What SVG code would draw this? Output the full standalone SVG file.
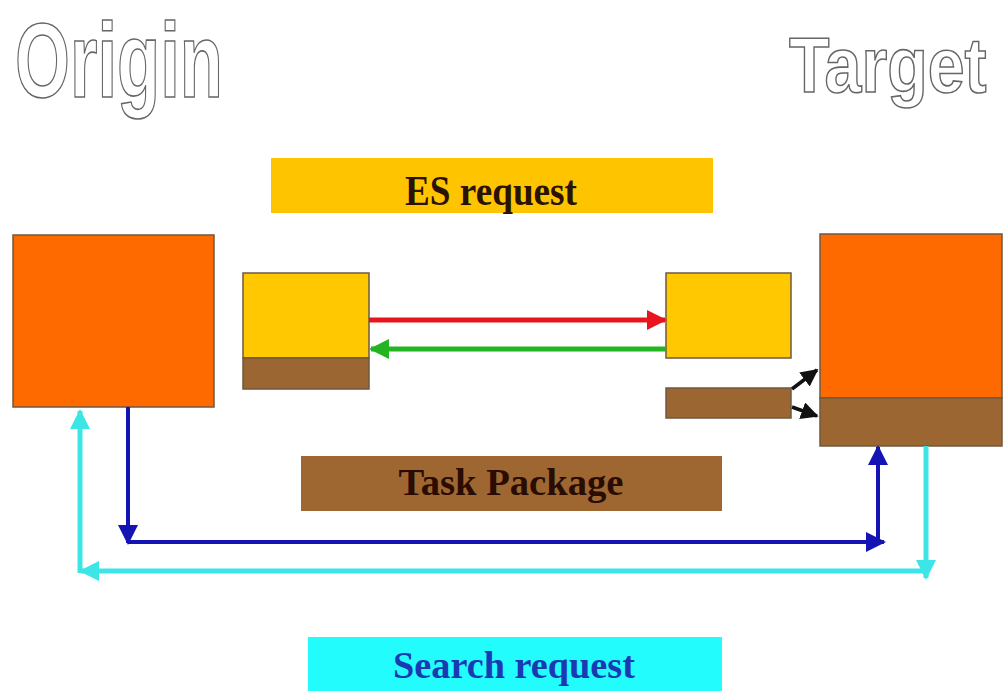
<svg xmlns="http://www.w3.org/2000/svg" width="1007" height="691" viewBox="0 0 1007 691">
  <style>
    .title { font-family: "Liberation Sans", Arial, sans-serif; font-weight: bold; fill: #ffffff; stroke: #666666; stroke-width: 1.6; }
    .box { stroke: #6e5a40; stroke-width: 1.5; }
    .orange { fill: #ff6a00; }
    .yellow { fill: #ffc800; }
    .brown { fill: #9c6632; }
    .label { font-family: "Liberation Serif", "Times New Roman", serif; font-weight: bold; text-anchor: middle; }
    .conn { fill: none; }
  </style>
  <defs>
    <marker id="ahRed" viewBox="0 0 10 10" refX="9" refY="5" markerWidth="4" markerHeight="4" orient="auto" markerUnits="strokeWidth">
      <path d="M0,0 L10,5 L0,10 z" fill="#e8141e"/>
    </marker>
    <marker id="ahGreen" viewBox="0 0 10 10" refX="9" refY="5" markerWidth="4" markerHeight="4" orient="auto" markerUnits="strokeWidth">
      <path d="M0,0 L10,5 L0,10 z" fill="#22b422"/>
    </marker>
    <marker id="ahBlue" viewBox="0 0 10 10" refX="9" refY="5" markerWidth="5" markerHeight="5" orient="auto" markerUnits="strokeWidth">
      <path d="M0,0 L10,5 L0,10 z" fill="#1414b4"/>
    </marker>
    <marker id="ahCyan" viewBox="0 0 10 10" refX="9" refY="5" markerWidth="4" markerHeight="4" orient="auto" markerUnits="strokeWidth">
      <path d="M0,0 L10,5 L0,10 z" fill="#3ce6e6"/>
    </marker>
    <marker id="ahBlack" viewBox="0 0 10 10" refX="9" refY="5" markerWidth="5" markerHeight="5" orient="auto" markerUnits="strokeWidth">
      <path d="M0,0 L10,5 L0,10 z" fill="#111111"/>
    </marker>
  </defs>

  <rect width="1007" height="691" fill="#ffffff"/>

  <!-- Titles -->
  <g id="title-origin">
    <text class="title" x="15" y="97" font-size="106" textLength="208" lengthAdjust="spacingAndGlyphs">Origin</text>
  </g>
  <g id="title-target">
    <text class="title" transform="translate(789 92) scale(0.85 1)" x="0" y="0" font-size="78">Target</text>
  </g>

  <!-- Banners -->
  <g id="banner-es">
    <rect x="271" y="158" width="442" height="55" fill="#ffc400"/>
    <text class="label" x="491" y="205" font-size="42" fill="#2a1205" textLength="172" lengthAdjust="spacingAndGlyphs">ES request</text>
  </g>
  <g id="banner-task">
    <rect x="301" y="456" width="421" height="55" fill="#9e6630"/>
    <text class="label" x="511" y="495" font-size="38" fill="#2a0c02" textLength="225" lengthAdjust="spacingAndGlyphs">Task Package</text>
  </g>
  <g id="banner-search">
    <rect x="308" y="637" width="414" height="54" fill="#22fcfc"/>
    <text class="label" x="514" y="678" font-size="38" fill="#1a3ab4" textLength="242" lengthAdjust="spacingAndGlyphs">Search request</text>
  </g>

  <!-- Origin node -->
  <g id="origin-node">
    <rect class="box orange" x="13" y="235" width="201" height="172"/>
  </g>
  <!-- Origin ES module -->
  <g id="origin-es">
    <rect class="box yellow" x="243" y="273" width="126" height="85"/>
    <rect class="box brown" x="243" y="358" width="126" height="31"/>
  </g>
  <!-- Target ES module -->
  <g id="target-es">
    <rect class="box yellow" x="666" y="273" width="125" height="85"/>
  </g>
  <g id="target-task">
    <rect class="box brown" x="666" y="388" width="125" height="30"/>
  </g>
  <!-- Target node -->
  <g id="target-node">
    <rect class="box orange" x="820" y="234" width="182" height="164"/>
    <rect class="box brown" x="820" y="398" width="182" height="48"/>
  </g>

  <!-- Connectors -->
  <g id="connectors" class="conn">
    <line x1="369" y1="320" x2="665" y2="320" stroke="#e8141e" stroke-width="5" marker-end="url(#ahRed)"/>
    <line x1="666" y1="349" x2="371" y2="349" stroke="#22b422" stroke-width="5" marker-end="url(#ahGreen)"/>
    <line x1="792" y1="389" x2="817" y2="370" stroke="#111111" stroke-width="3.5" marker-end="url(#ahBlack)"/>
    <line x1="792" y1="407" x2="817" y2="416" stroke="#111111" stroke-width="3.5" marker-end="url(#ahBlack)"/>

    <line x1="128" y1="407" x2="128" y2="543" stroke="#1414b4" stroke-width="4" marker-end="url(#ahBlue)"/>
    <line x1="128" y1="542" x2="884" y2="542" stroke="#1414b4" stroke-width="4" marker-end="url(#ahBlue)"/>
    <line x1="878" y1="544" x2="878" y2="447" stroke="#1414b4" stroke-width="4" marker-end="url(#ahBlue)"/>

    <line x1="926" y1="446" x2="926" y2="578" stroke="#3ce6e6" stroke-width="5" marker-end="url(#ahCyan)"/>
    <line x1="926" y1="571" x2="81" y2="571" stroke="#3ce6e6" stroke-width="5" marker-end="url(#ahCyan)"/>
    <line x1="80" y1="573" x2="80" y2="411" stroke="#3ce6e6" stroke-width="5" marker-end="url(#ahCyan)"/>
  </g>
</svg>
